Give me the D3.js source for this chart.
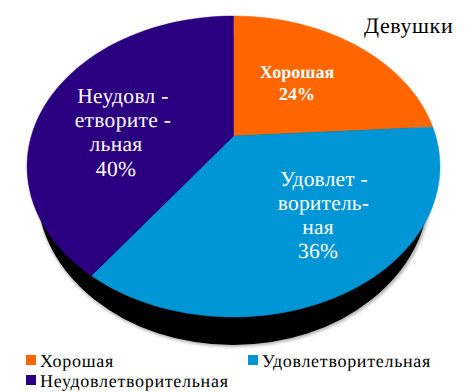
<!DOCTYPE html>
<html>
<head>
<meta charset="utf-8">
<script src="https://cdn.jsdelivr.net/npm/d3@7"></script>
<style>
  html, body { margin: 0; padding: 0; background: #fff; }
  svg { display: block; }
  text { font-family: "Liberation Serif", "Times New Roman", "DejaVu Serif", serif; text-rendering: geometricPrecision; }
</style>
</head>
<body>
<script>
const title = 'Девушки';
const categories = ['Хорошая', 'Удовлетворительная', 'Неудовлетворительная'];
const values = [24, 36, 40];
const colors = ['#ff6600', '#0096d6', '#2b0080'];
const sliceLines = [
  ['Хорошая', '24%'],
  ['Удовлет -', 'воритель-', 'ная', '36%'],
  ['Неудовл -', 'етворите -', 'льная', '40%']
];

const w = 467, h = 392;

const svg = d3.select('body').append('svg')
  .attr('width', w)
  .attr('height', h);

const defs = svg.append('defs');
defs.append('filter')
  .attr('id', 'soft')
  .append('feGaussianBlur')
  .attr('stdDeviation', 1.6);

// tilted disc: the apex sits above the middle of the ellipse
const apex = { x: 233.5, y: 136 };
const tilt = -0.2027, ampX = 202.2, ampY = 144.3;
const project = (angle) => {
  const u = Math.sin(angle), v = -Math.cos(angle);
  const d = 1 + tilt * v;
  return [apex.x + ampX * u / d, apex.y + ampY * v / d];
};

const colorScale = d3.scaleOrdinal().domain(categories).range(colors);
const pie = d3.pie().sort(null).value((d, i) => values[i]);
const slices = pie(categories);
const line = d3.line();

const slicePath = (d) => {
  const steps = d3.range(0, 61).map((i) => d.startAngle + (d.endAngle - d.startAngle) * i / 60);
  return line([[apex.x, apex.y], ...steps.map(project)]) + 'Z';
};

// shadow and black side
svg.append('ellipse')
  .attr('cx', 234).attr('cy', 192)
  .attr('rx', 197).attr('ry', 155)
  .attr('fill', '#b5b5b5')
  .attr('filter', 'url(#soft)');

svg.append('ellipse')
  .attr('cx', 233).attr('cy', 190)
  .attr('rx', 196).attr('ry', 155)
  .attr('fill', '#000');

svg.selectAll('.slice')
  .data(slices)
  .enter()
  .append('path')
  .attr('class', 'slice')
  .attr('d', slicePath)
  .attr('fill', (d) => colorScale(d.data))
  .attr('stroke', (d) => colorScale(d.data))
  .attr('stroke-width', 0.5);

// slice labels, line centres differ a little in the original
const labelStyle = [
  { y: 78, step: 22, size: 18, weight: 'bold', spacing: 0, xs: [297, 297] },
  { y: 186, step: 24, size: 21.5, weight: 'normal', spacing: 0.2, xs: [324, 323.5, 318, 318] },
  { y: 103, step: 24.2, size: 21.5, weight: 'normal', spacing: 0.3, xs: [123, 123, 116, 116] }
];

svg.selectAll('.slice-label')
  .data(sliceLines)
  .enter()
  .append('text')
  .attr('class', 'slice-label')
  .attr('fill', '#fff')
  .attr('text-anchor', 'middle')
  .attr('font-size', (d, i) => labelStyle[i].size)
  .attr('font-weight', (d, i) => labelStyle[i].weight)
  .attr('letter-spacing', (d, i) => labelStyle[i].spacing)
  .each(function (lines, i) {
    d3.select(this).selectAll('tspan')
      .data(lines)
      .enter()
      .append('tspan')
      .attr('x', (d, j) => labelStyle[i].xs[j])
      .attr('y', (d, j) => labelStyle[i].y + j * labelStyle[i].step)
      .text((d) => d);
  });

svg.append('text')
  .attr('x', 364)
  .attr('y', 33)
  .attr('font-size', 22)
  .attr('letter-spacing', 0.6)
  .attr('fill', '#000')
  .text(title);

// legend
const legendPos = [[26, 367], [248, 367], [26, 387]];
const legend = svg.selectAll('.legend')
  .data(categories)
  .enter()
  .append('g')
  .attr('class', 'legend')
  .attr('transform', (d, i) => `translate(${legendPos[i][0]}, ${legendPos[i][1]})`);

legend.append('rect')
  .attr('x', 0).attr('y', -12)
  .attr('width', 10).attr('height', 10)
  .attr('fill', (d) => colorScale(d));

legend.append('text')
  .attr('x', 14)
  .attr('font-size', 18)
  .attr('letter-spacing', 0.7)
  .attr('fill', '#000')
  .text((d) => d);
</script>
</body>
</html>
